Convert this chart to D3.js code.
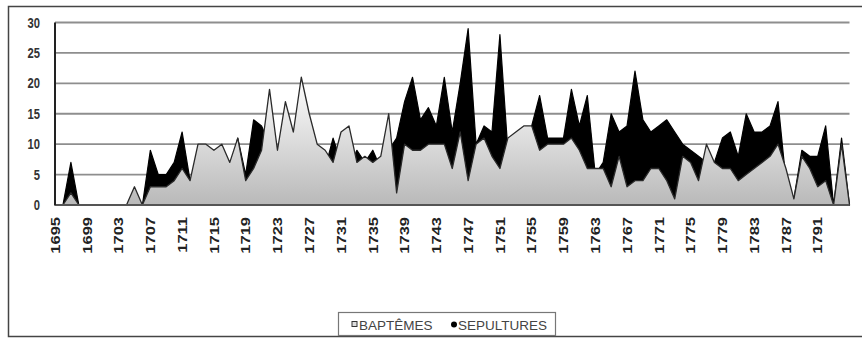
<!DOCTYPE html>
<html>
<head>
<meta charset="utf-8">
<script src="https://cdn.jsdelivr.net/npm/d3@7"></script>
<style>
  body { margin: 0; background: #fff; }
  text { font-family: "Liberation Sans", Arial, sans-serif; }
</style>
</head>
<body>
<div id="chart"></div>
<script>
// data : one value per year, 1695 -> 1795
var firstYear = 1695, lastYear = 1795;
var years = d3.range(firstYear, lastYear + 1);

var baptemes = [
  0, 0, 2, 0, 0, 0, 0, 0, 0, 0,      // 1695-1704
  3, 0, 3, 3, 3, 4, 6, 4, 10, 10,    // 1705-1714
  9, 10, 7, 11, 4, 6, 9, 19, 9, 17,  // 1715-1724
  12, 21, 15, 10, 9, 7, 12, 13, 7, 8, // 1725-1734
  7, 8, 15, 2, 10, 9, 9, 10, 10, 10, // 1735-1744
  6, 12, 4, 10, 11, 8, 6, 11, 12, 13, // 1745-1754
  13, 9, 10, 10, 10, 11, 9, 6, 6, 6,  // 1755-1764
  3, 8, 3, 4, 4, 6, 6, 4, 1, 8,      // 1765-1774
  7, 4, 10, 7, 6, 6, 4, 5, 6, 7,     // 1775-1784
  8, 10, 6, 1, 8, 6, 3, 4, 0, 10,    // 1785-1794
  0                                  // 1795
];

var sepultures = [
  0, 0, 7, 0, 0, 0, 0, 0, 0, 0,      // 1695-1704
  0, 0, 9, 5, 5, 7, 12, 4, 6, 8,     // 1705-1714
  5, 7, 5, 11, 5, 14, 13, 10, 6, 9,  // 1715-1724
  7, 8, 8, 7, 6, 11, 7, 6, 9, 7,     // 1725-1734
  9, 6, 9, 11, 17, 21, 14, 16, 13, 21, // 1735-1744
  12, 20, 29, 10, 13, 12, 28, 9, 10, 11, // 1745-1754
  13, 18, 11, 11, 11, 19, 13, 18, 5, 7,  // 1755-1764
  15, 12, 13, 22, 14, 12, 13, 14, 12, 10, // 1765-1774
  9, 8, 7, 7, 11, 12, 8, 15, 12, 12,  // 1775-1784
  13, 17, 4, 1, 9, 8, 8, 13, 0, 11,   // 1785-1794
  0                                   // 1795
];

var tickYears = [1695, 1699, 1703, 1707, 1711, 1715, 1719, 1723, 1727, 1731, 1735, 1739,
  1743, 1747, 1751, 1755, 1759, 1763, 1767, 1771, 1775, 1779, 1783, 1787, 1791];
var yTicks = [0, 5, 10, 15, 20, 25, 30];
var seriesNames = ["BAPTÊMES", "SEPULTURES"];

// size
var width = 862, height = 339;
var plot = { left: 55, right: 849.5, top: 22.5, bottom: 205 };

var svg = d3.select("#chart").append("svg")
    .attr("width", width)
    .attr("height", height);

// outer frame
svg.append("rect")
    .attr("x", 8.5).attr("y", 6.5)
    .attr("width", width + 10).attr("height", 330)
    .attr("fill", "#fff")
    .attr("stroke", "#444")
    .attr("stroke-width", 1.5);

var x = d3.scalePoint()
    .domain(years)
    .range([plot.left, plot.right]);

var y = d3.scaleLinear()
    .domain([0, 30])
    .range([plot.bottom, plot.top]);

// gradient for the baptemes area
var defs = svg.append("defs");
var grad = defs.append("linearGradient")
    .attr("id", "bapGrad")
    .attr("gradientUnits", "userSpaceOnUse")
    .attr("x1", 0).attr("x2", 0)
    .attr("y1", y(d3.max(baptemes))).attr("y2", y(0));
grad.append("stop").attr("offset", "0%").attr("stop-color", "#ffffff");
grad.append("stop").attr("offset", "100%").attr("stop-color", "#b9b9b9");

// gridlines
svg.append("g")
    .selectAll("line")
    .data(yTicks.filter(function(d) { return d > 0; }))
    .enter().append("line")
    .attr("x1", plot.left).attr("x2", plot.right)
    .attr("y1", function(d) { return y(d); })
    .attr("y2", function(d) { return y(d); })
    .attr("stroke", "#8e8e8e")
    .attr("stroke-width", 1.8);

// areas
var area = function(vals) {
    return d3.area()
        .x(function(d, i) { return x(years[i]); })
        .y0(y(0))
        .y1(function(d) { return y(d); })(vals);
};

svg.append("path")
    .attr("d", area(sepultures))
    .attr("fill", "#000")
    .attr("stroke", "#000")
    .attr("stroke-width", 1.2)
    .attr("stroke-linejoin", "round");

svg.append("path")
    .attr("d", area(baptemes))
    .attr("fill", "url(#bapGrad)")
    .attr("stroke", "#2a2a2a")
    .attr("stroke-width", 1.3)
    .attr("stroke-linejoin", "round");

// axis lines
svg.append("line")
    .attr("x1", plot.left).attr("x2", plot.right)
    .attr("y1", y(0)).attr("y2", y(0))
    .attr("stroke", "#555").attr("stroke-width", 2);
svg.append("line")
    .attr("x1", plot.left).attr("x2", plot.left)
    .attr("y1", plot.top).attr("y2", y(0))
    .attr("stroke", "#222").attr("stroke-width", 2);

// y labels
svg.append("g")
    .selectAll("text")
    .data(yTicks)
    .enter().append("text")
    .attr("transform", function(d) { return "translate(40," + y(d) + ") scale(0.8,1)"; })
    .attr("dy", "0.36em")
    .attr("text-anchor", "end")
    .attr("font-size", "14px")
    .attr("font-weight", "bold")
    .attr("fill", "#333")
    .text(function(d) { return d; });

// x labels
svg.append("g")
    .selectAll("text")
    .data(tickYears)
    .enter().append("text")
    .attr("transform", function(d) { return "translate(" + x(d) + ",217) rotate(-90) scale(1,0.8)"; })
    .attr("dy", "0.36em")
    .attr("text-anchor", "end")
    .attr("font-size", "16.5px")
    .attr("font-weight", "bold")
    .attr("fill", "#222")
    .text(function(d) { return d; });

// legend
var legend = svg.append("g");
legend.append("rect")
    .attr("x", 338.5).attr("y", 312.5)
    .attr("width", 217).attr("height", 23)
    .attr("fill", "#fff")
    .attr("stroke", "#777")
    .attr("stroke-width", 1.2);

legend.append("rect")
    .attr("x", 352).attr("y", 321.5)
    .attr("width", 5).attr("height", 5)
    .attr("fill", "#ddd")
    .attr("stroke", "#333");
legend.append("circle")
    .attr("cx", 454).attr("cy", 324.5)
    .attr("r", 3)
    .attr("fill", "#000");

legend.selectAll("text.leg")
    .data(seriesNames)
    .enter().append("text")
    .attr("class", "leg")
    .attr("x", function(d, i) { return i == 0 ? 359 : 458; })
    .attr("y", 330)
    .attr("font-size", "13.5px")
    .attr("fill", "#444")
    .text(function(d) { return d; });
</script>
</body>
</html>
